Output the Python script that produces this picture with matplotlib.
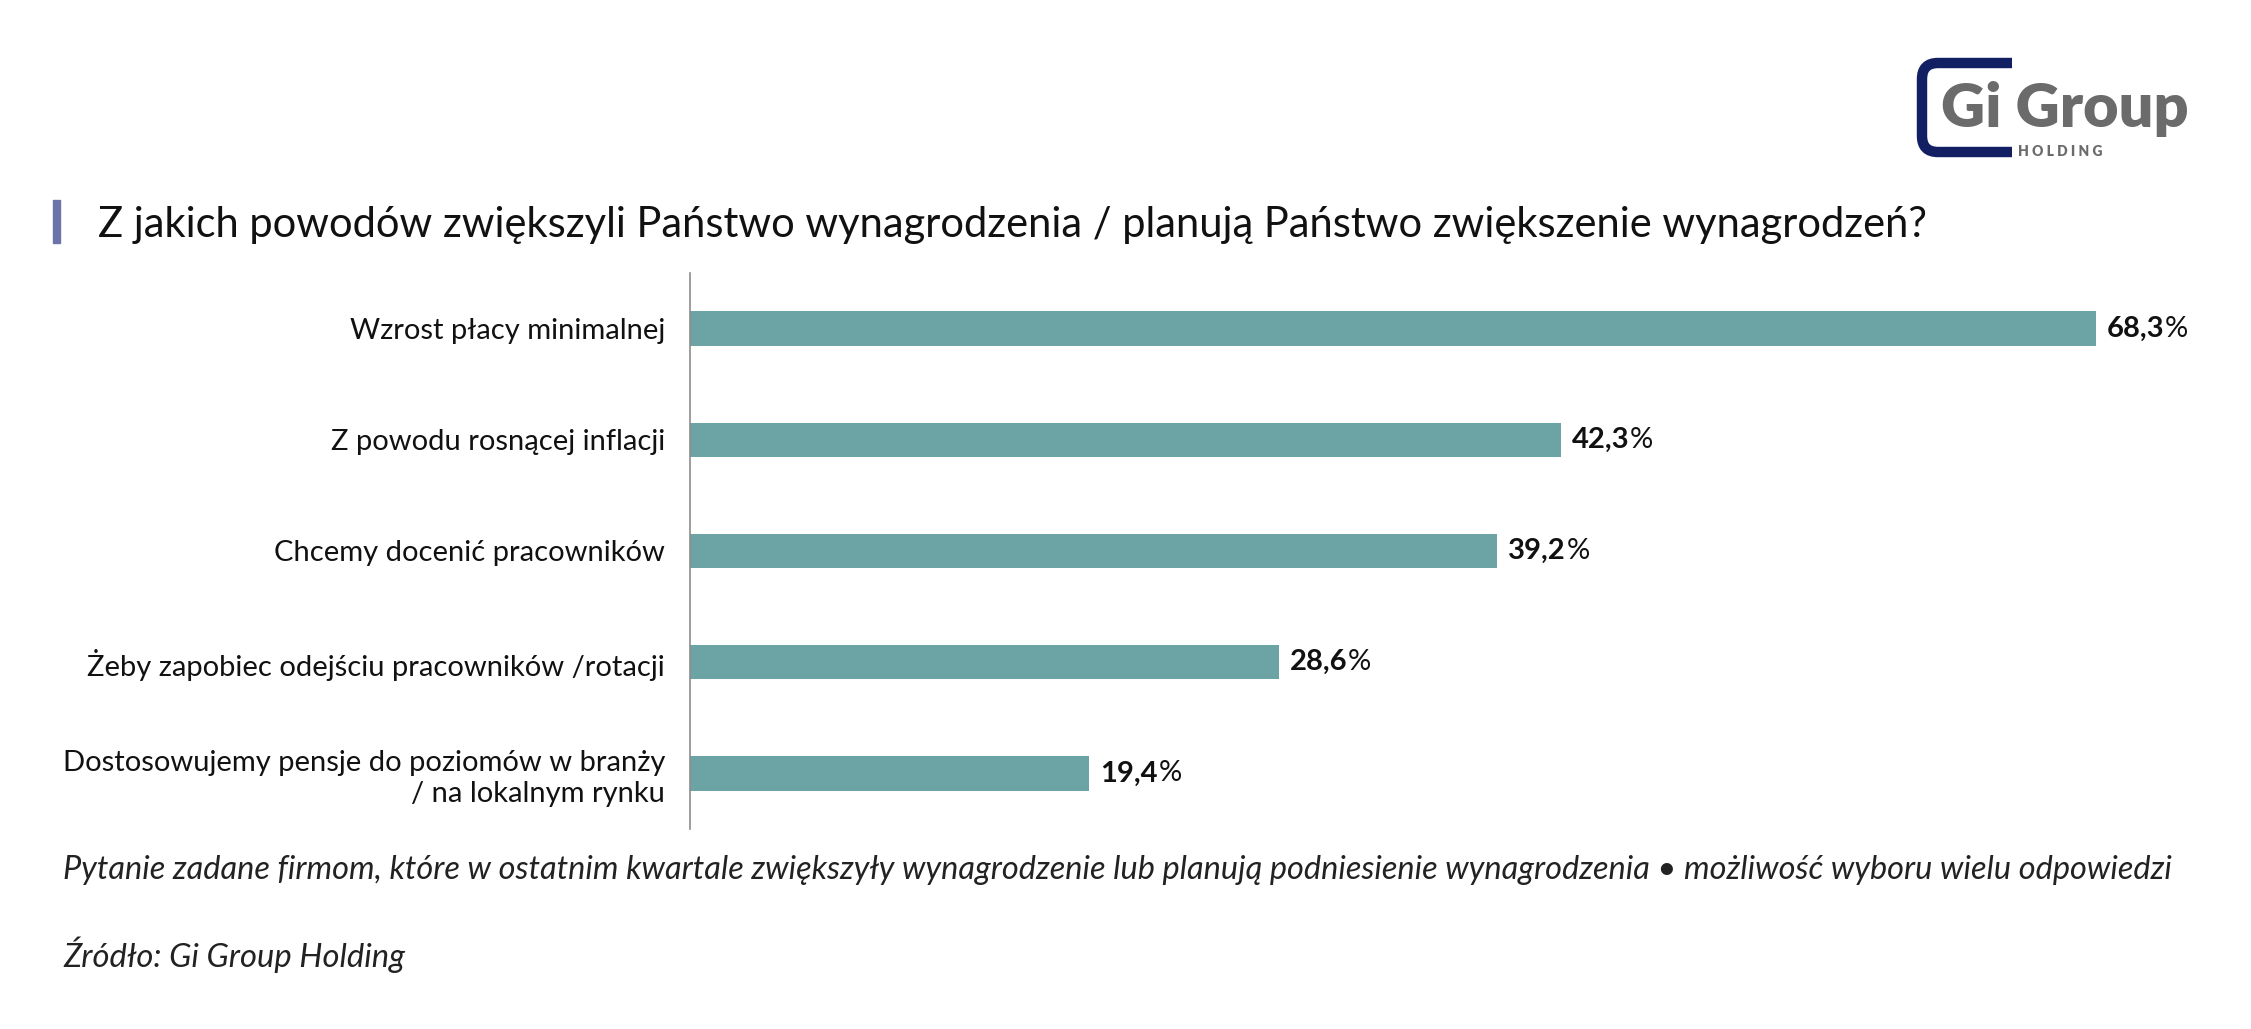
import matplotlib.pyplot as plt
from matplotlib.path import Path
from matplotlib.patches import PathPatch

W, H = 2251, 1029

categories = [
    'Wzrost płacy minimalnej',
    'Z powodu rosnącej inflacji',
    'Chcemy docenić pracowników',
    'Żeby zapobiec odejściu pracowników /rotacji',
    'Dostosowujemy pensje do poziomów w branży\n/ na lokalnym rynku',
]
values = [68.3, 42.3, 39.2, 28.6, 19.4]

title = 'Z jakich powodów zwiększyli Państwo wynagrodzenia / planują Państwo zwiększenie wynagrodzeń?'
note = ('Pytanie zadane firmom, które w ostatnim kwartale zwiększyły wynagrodzenie '
        'lub planują podniesienie wynagrodzenia • możliwość wyboru wielu odpowiedzi')
source = 'Źródło: Gi Group Holding'

BAR = '#6ca4a6'
plt.rcParams['font.family'] = ['Lato', 'DejaVu Sans']


def fx(x, y):
    # piksele -> ułamki figury
    return x / W, 1 - y / H


fig = plt.figure(figsize=(W / 100, H / 100), dpi=100)
ax = fig.add_axes([690 / W, 1 - 829 / H, (2200 - 690) / W, (829 - 273) / H])

pos = list(range(len(values)))
ax.barh(pos, values, height=0.31, color=BAR)
ax.set_xlim(0, (2200 - 690) / 20.58)
ax.set_ylim(len(values) - 0.5, -0.5)
ax.set_yticks(pos)
ax.set_yticklabels(categories, fontsize=21, color='#111111', linespacing=1.25)
ax.tick_params(axis='y', length=0, pad=18)
ax.set_xticks([])
for s in ['top', 'right', 'bottom']:
    ax.spines[s].set_visible(False)
ax.spines['left'].set_color('#8c8c8c')
ax.spines['left'].set_linewidth(1.2)

# etykiety wartości: liczba pogrubiona + zwykły znak %
for i, v in enumerate(values):
    t = ax.annotate(f'{v:.1f}'.replace('.', ','), xy=(v, i), xytext=(11, 0),
                    textcoords='offset pixels', ha='left', va='center',
                    fontsize=21, fontweight='bold', color='#111111')
    ax.annotate('%', xy=(1, 0.5), xycoords=t, xytext=(1, 0),
                textcoords='offset pixels', ha='left', va='center',
                fontsize=21, color='#111111')

# tytuł z akcentem
fig.patches.append(plt.Rectangle(fx(53, 243), 7 / W, 43 / H, transform=fig.transFigure,
                                 color='#6b73a8', figure=fig))
fig.text(*fx(98, 225), title, fontsize=30, va='center', ha='left', color='#111111')

# przypisy
fig.text(*fx(63, 870), note, fontsize=23.4, style='italic', va='center', color='#222222')
fig.text(*fx(63, 955), source, fontsize=23.6, style='italic', va='center', color='#222222')

# logo
r = 16
verts = [fx(2012, 63), fx(1922 + r, 63), fx(1922, 63), fx(1922, 63 + r),
         fx(1922, 152 - r), fx(1922, 152), fx(1922 + r, 152), fx(2012, 152)]
codes = [Path.MOVETO, Path.LINETO, Path.CURVE3, Path.CURVE3,
         Path.LINETO, Path.CURVE3, Path.CURVE3, Path.LINETO]
fig.patches.append(PathPatch(Path(verts, codes), transform=fig.transFigure, fill=False,
                             edgecolor='#121f62', linewidth=7.5, capstyle='butt',
                             figure=fig))
fig.text(*fx(1941, 127), 'Gi Group', fontsize=44, fontweight='heavy', color='#6b6b6b',
         va='baseline', ha='left')
fig.text(*fx(2018, 151), 'H O L D I N G', fontsize=10, fontweight='heavy', color='#6b6b6b',
         va='center', ha='left')

fig.savefig('out.png', dpi=100, facecolor='white')
